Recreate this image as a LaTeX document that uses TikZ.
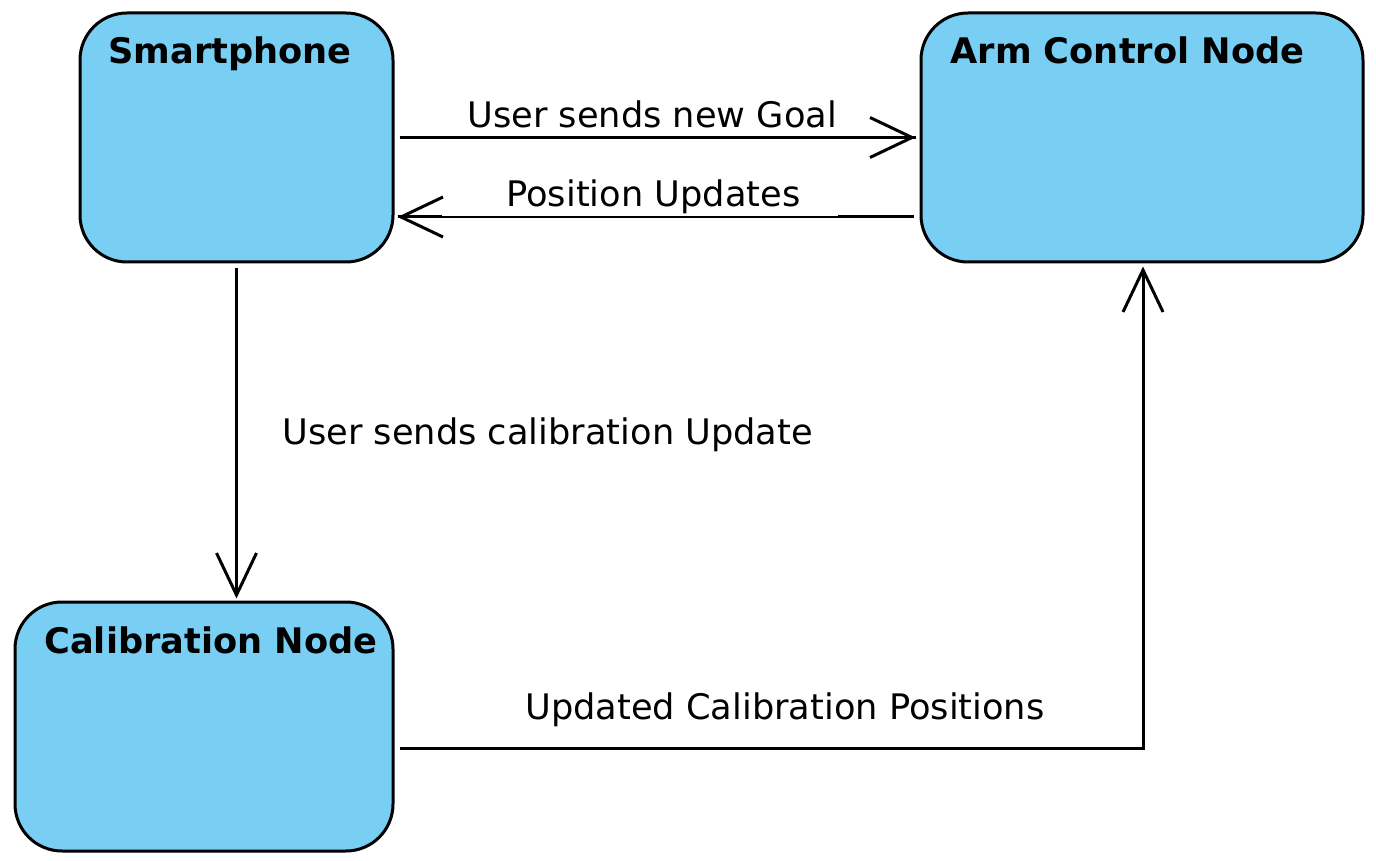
\documentclass[tikz,border=0pt]{standalone}
\usepackage{fontspec}
\setmainfont{DejaVu Sans}
\usetikzlibrary{arrows.meta}
\definecolor{boxblue}{RGB}{121,206,243}
\tikzset{
  statebox/.style={draw=black, line width=1.5pt, fill=boxblue, rounded corners=23.5pt, inner sep=0pt},
  title/.style={anchor=base west, inner sep=0pt, font=\fontsize{17.6}{21}\selectfont\bfseries},
  lbl/.style={anchor=base west, inner sep=0pt, font=\fontsize{17.6}{21}\selectfont},
  conn/.style={line width=1.5pt, -{Straight Barb[length=21pt,width=20pt,line width=1.5pt]}},
  thinconn/.style={line width=1.1pt, -{Straight Barb[length=21pt,width=20pt,line width=1.5pt]}},
  thickbit/.style={line width=1.5pt}
}
\begin{document}
\begin{tikzpicture}[x=0.5pt,y=-0.5pt]
\useasboundingbox (0,0) rectangle (1376,861);
% boxes
\node[statebox, minimum width=156.5pt, minimum height=124.5pt] (sp) at (236.5,137.5) {};
\node[statebox, minimum width=221pt, minimum height=124.5pt] (arm) at (1142,137.5) {};
\node[statebox, minimum width=189pt, minimum height=124.5pt] (cal) at (204,726.5) {};
% titles
\node[title] (spt) at (108,64) {Smartphone};
\node[title] (armt) at (950,64) {Arm Control Node};
\node[title] (calt) at (44,653) {Calibration Node};
% connectors
\draw[thinconn] ([xshift=2.5pt]sp.east) -- ([xshift=-2pt]arm.west);
\draw[thickbit] ([xshift=2.5pt]sp.east) -- ++(18.5pt,0);
\draw[thickbit] ([xshift=-2pt]arm.west) -- ++(-22pt,0);
\draw[thinconn] ([shift={(-3pt,-39.75pt)}]arm.west) -- ([shift={(1.5pt,-39.75pt)}]sp.east);
\draw[thickbit] ([shift={(-3pt,-39.75pt)}]arm.west) -- ++(-38pt,0);
\draw[thickbit] ([shift={(1.5pt,-39.75pt)}]sp.east) -- ++(22pt,0);
\draw[conn] ([yshift=-2.5pt]sp.south) -- ([yshift=1pt]sp.south |- cal.north);
\draw[conn] ([shift={(2.5pt,-10.75pt)}]cal.east) -| ([shift={(0.5pt,-1.5pt)}]arm.south);
% labels
\node[lbl] (l1) at (467,128) {User sends new Goal};
\node[lbl] (l2) at (506,207) {Position Updates};
\node[lbl] (l3) at (282,444) {User sends calibration Update};
\node[lbl] (l4) at (525,719) {Updated Calibration Positions};
\end{tikzpicture}
\end{document}
